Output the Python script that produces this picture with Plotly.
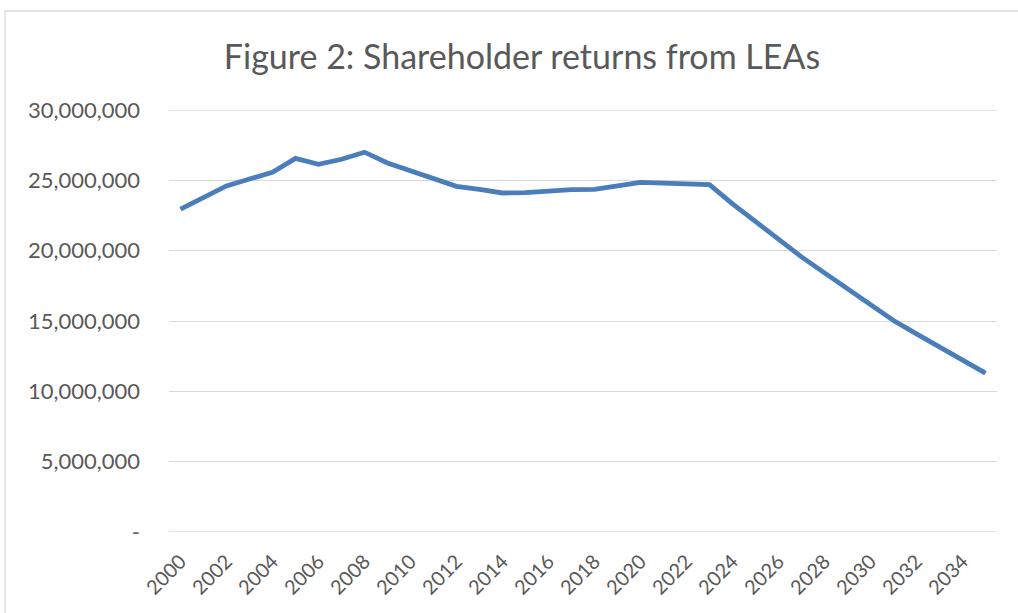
import plotly.graph_objects as go

years = [str(y) for y in range(2000, 2036)]
returns = [
    22950000, 23800000, 24600000, 25100000, 25570000, 26560000, 26140000, 26500000,
    27000000, 26230000, 25700000, 25100000, 24570000, 24360000, 24100000, 24120000,
    24250000, 24340000, 24360000, 24600000, 24860000, 24800000, 24760000, 24700000,
    23330000, 22050000, 20770000, 19560000, 18420000, 17290000, 16160000, 15030000,
    14090000, 13150000, 12220000, 11300000,
]
x_tick_labels = [str(y) for y in range(2000, 2036, 2)]
y_tick_vals = [0, 5000000, 10000000, 15000000, 20000000, 25000000, 30000000]
y_tick_text = ["-", "5,000,000", "10,000,000", "15,000,000", "20,000,000", "25,000,000", "30,000,000"]

W, H = 1018, 613
L, R, T, B = 169, 21, 110, 81
pw, ph = W - L - R, H - T - B

def px(x):
    return (x - L) / pw

def py(y):
    return (H - B - y) / ph

font_family = "Lato, 'Open Sans', sans-serif"
grey = "#595959"
grid = "#D9D9D9"

fig = go.Figure()
fig.add_trace(go.Scatter(
    x=years, y=returns, mode="lines",
    line=dict(color="#4A7EBB", width=4.8),
    hoverinfo="skip", showlegend=False,
))

edge_lines = [
    dict(type="line", xref="paper", yref="y", x0=0, x1=1,
         y0=v, y1=v, layer="below", line=dict(color=grid, width=1.3))
    for v in (y_tick_vals[0], y_tick_vals[-1])
]

fig.update_layout(
    width=W, height=H,
    margin=dict(l=L, r=R, t=T, b=B, autoexpand=False),
    paper_bgcolor="white", plot_bgcolor="white",
    title=dict(
        text="Figure 2: Shareholder returns from LEAs",
        x=px(522), xref="paper", xanchor="center",
        y=1 - 57 / H, yref="container", yanchor="middle",
        font=dict(family=font_family, size=34, color=grey),
    ),
    xaxis=dict(
        type="category",
        range=[-0.5, len(years) - 0.5],
        tickmode="array", tickvals=x_tick_labels, ticktext=x_tick_labels,
        tickangle=-45,
        tickfont=dict(family=font_family, size=20, color=grey),
        showgrid=False, showline=False, zeroline=False,
        ticks="", ticklabelstandoff=13, automargin=False,
    ),
    yaxis=dict(
        range=[0, 30000000],
        tickmode="array", tickvals=y_tick_vals, ticktext=y_tick_text,
        tickfont=dict(family=font_family, size=22, color=grey),
        showgrid=True, gridcolor=grid, gridwidth=1.3,
        zeroline=False, showline=False, ticks="",
        ticklabelstandoff=28, automargin=False,
    ),
    shapes=edge_lines + [
        dict(type="line", xref="paper", yref="paper",
             x0=px(5), x1=px(1030), y0=py(11), y1=py(11),
             line=dict(color=grid, width=1.3)),
        dict(type="line", xref="paper", yref="paper",
             x0=px(5), x1=px(5), y0=py(11), y1=py(640),
             line=dict(color=grid, width=1.3)),
    ],
)

fig.write_html(
    "out.html",
    config={"displayModeBar": False},
    post_script="document.body.style.margin='0';document.body.style.overflow='hidden';",
)
